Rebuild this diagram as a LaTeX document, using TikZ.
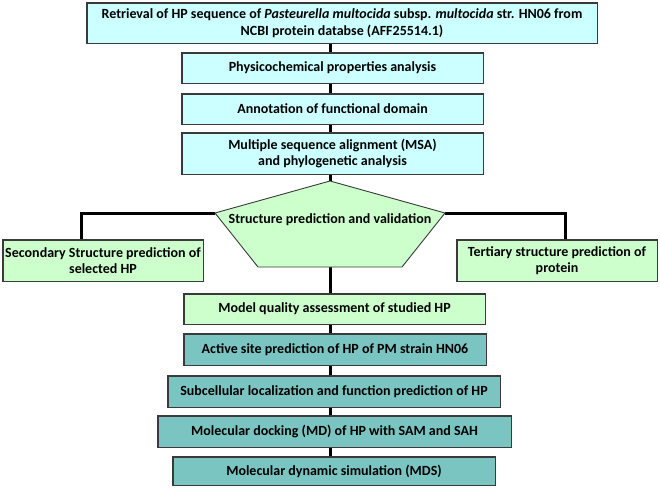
\documentclass[tikz,border=0pt]{standalone}
\usepackage{fontspec}
\setmainfont{Carlito}
\usetikzlibrary{calc}
\definecolor{lcyan}{HTML}{CCFFFF}
\definecolor{lgreen}{HTML}{CCFFCC}
\definecolor{teal2}{HTML}{7AC4C1}
\definecolor{edge}{HTML}{3A3A3A}
\begin{document}
\begin{tikzpicture}[x=1pt,y=-1pt,
  txt/.style={font=\fontsize{14}{16.5}\selectfont\bfseries},
  box/.style={draw=edge, line width=0.9pt, rectangle, inner sep=1pt, align=center, txt},
  cbox/.style={box, fill=lcyan},
  gbox/.style={box, fill=lgreen},
  tbox/.style={box, fill=teal2},
  conn/.style={line width=3pt, black}]
\useasboundingbox (0,0) rectangle (660,489);
\coordinate (c) at (330,0);
\node[cbox, minimum width=510pt, minimum height=40pt] (b1) at (342,23) {Retrieval of HP sequence of \textit{Pasteurella multocida} subsp. \textit{multocida} str. HN06 from\\NCBI protein databse (AFF25514.1)};
\node[cbox, minimum width=301pt, minimum height=30pt] (b2) at (332.5,68) {Physicochemical properties analysis};
\node[cbox, minimum width=301pt, minimum height=30pt] (b3) at (332.5,109) {Annotation of functional domain};
\node[cbox, minimum width=301pt, minimum height=41pt] (b4) at (332.5,153.5) {Multiple sequence alignment (MSA)\\and phylogenetic analysis};
\coordinate (ptop) at (330,181);
\coordinate (pleft) at (215,213);
\coordinate (pbl) at (258,267);
\coordinate (pbr) at (402,267);
\coordinate (pright) at (445,213);
\coordinate (pbot) at (330,267);
\node[gbox, minimum width=200pt, minimum height=41pt] (sec) at (103,260.5) {Secondary Structure prediction of\\selected HP};
\node[gbox, minimum width=200pt, minimum height=41pt] (ter) at (557,260.5) {Tertiary structure prediction of\\protein};
\node[gbox, minimum width=301pt, minimum height=30pt] (m1) at (334.5,309) {Model quality assessment of studied HP};
\node[tbox, minimum width=302pt, minimum height=31pt] (m2) at (335,349.5) {Active site prediction of HP of PM strain HN06};
\node[tbox, minimum width=332pt, minimum height=31pt] (m3) at (334,391.5) {Subcellular localization and function prediction of HP};
\node[tbox, minimum width=353pt, minimum height=31pt] (m4) at (334.5,431.5) {Molecular docking (MD) of HP with SAM and SAH};
\node[tbox, minimum width=322pt, minimum height=28pt] (m5) at (334,471) {Molecular dynamic simulation (MDS)};
\draw[conn] (b1.south -| c) -- (b2.north -| c);
\draw[conn] (b2.south -| c) -- (b3.north -| c);
\draw[conn] (b3.south -| c) -- (b4.north -| c);
\draw[conn] (b4.south -| c) -- (ptop);
\draw[conn] (pleft) -| ($(sec.north west)!0.395!(sec.north east)$);
\draw[conn] (pright) -| ($(ter.north west)!0.54!(ter.north east)$);
\draw[conn] (pbot) -- (m1.north -| c);
\draw[conn] (m1.south -| c) -- (m2.north -| c);
\draw[conn] (m2.south -| c) -- (m3.north -| c);
\draw[conn] (m3.south -| c) -- (m4.north -| c);
\draw[conn] (m4.south -| c) -- (m5.north -| c);
\filldraw[fill=lgreen, draw=edge, line width=0.9pt] (ptop) -- (pright) -- (pbr) -- (pbl) -- (pleft) -- cycle;
\node[txt] (pent) at (330,220) {Structure prediction and validation};
\foreach \n in {b1,b2,b3,b4,sec,ter,m1,m2,m3,m4,m5}{
  \draw[edge, line width=0.9pt] (\n.north west) rectangle (\n.south east);
}
\end{tikzpicture}
\end{document}
